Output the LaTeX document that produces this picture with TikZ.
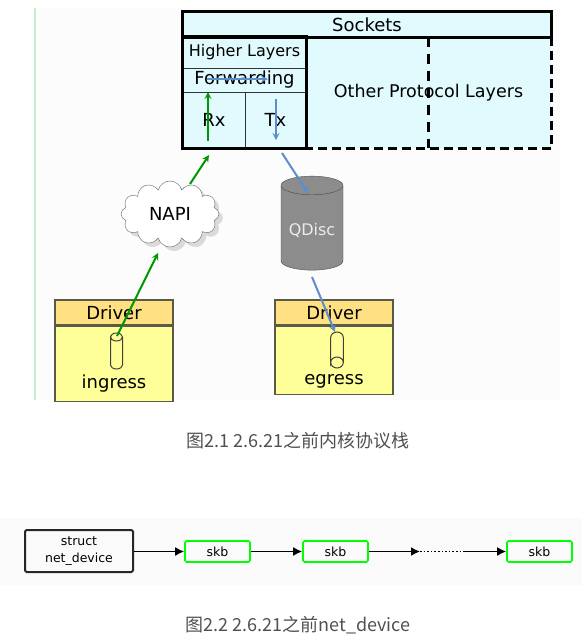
\documentclass[tikz,border=0pt]{standalone}
\usepackage{fontspec}
\setmainfont{DejaVu Sans}
\newfontfamily\cjk{Noto Sans CJK SC}
\usetikzlibrary{shapes.geometric,shapes.symbols,shadows,arrows.meta}
\definecolor{sockcyan}{RGB}{224,250,254}
\definecolor{drvhead}{RGB}{255,224,130}
\definecolor{drvbody}{RGB}{255,255,153}
\definecolor{drvline}{RGB}{90,90,70}
\definecolor{qgray}{RGB}{140,140,140}
\definecolor{rxgreen}{RGB}{0,150,0}
\definecolor{txblue}{RGB}{95,140,205}
\definecolor{capgray}{RGB}{80,80,80}
\definecolor{barline}{RGB}{200,235,200}
\begin{document}
\begin{tikzpicture}[x=1pt,y=-1pt,>=stealth,
  every node/.style={font=\fontsize{18}{18}\selectfont},
  layer/.style={fill=sockcyan,draw=black!80,line width=.8,inner sep=0},
  outerline/.style={line width=2.5},
  drv/.style={draw=drvline,line width=1.2,inner sep=0},
  tubeline/.style={draw=black!75,line width=1},
  skb/.style={draw=green,line width=1.6,rounded corners=1.5,minimum width=65,minimum height=21,inner sep=0,font=\fontsize{12.5}{12.5}\selectfont},
  link/.style={-{Latex[length=9pt,width=9pt]},line width=1.6},
  capt/.style={text=capgray,font=\cjk\fontsize{18}{18}\selectfont}]
\useasboundingbox (0,0) rectangle (585,641);
% upper figure
\fill[black!1] (37,8) rectangle (560,400);
\draw[barline,line width=2.5] (35,8)--(35,400);
\node[layer,draw=none,minimum width=245,minimum height=111] (other) at (428.5,92.5) {\fontsize{17.5}{17.5}\selectfont Other Protocol Layers};
\draw[line width=3,dash pattern=on 9 off 5] (other.north east)--(other.south east)--(other.south west);
\draw[line width=3,dash pattern=on 10 off 7] (other.north)--(other.south);
\node[layer,minimum width=368,minimum height=25] (sock) at (367,24.5) {Sockets};
\node[layer,minimum width=123,minimum height=31] (high) at (244.5,52.5) {\fontsize{16}{16}\selectfont Higher Layers};
\node[layer,minimum width=123,minimum height=24] (fwd) at (244.5,80) {Forwarding};
\node[layer,minimum width=62,minimum height=56] (rx) at (214,120) {Rx};
\node[layer,minimum width=61,minimum height=56] (tx) at (275.5,120) {Tx};
\draw[outerline] (sock.north west) rectangle (sock.south east);
\draw[outerline] (high.north west) rectangle (tx.south east);
\node[cloud,cloud puffs=12,aspect=1.5,draw=gray!80!black,fill=white,minimum width=98,minimum height=66,
  drop shadow={shadow xshift=4pt,shadow yshift=-4pt,fill=gray!55}] (napi) at (170,214) {NAPI};
\node[cylinder,shape border rotate=90,aspect=.35,draw=black!70,fill=qgray,minimum width=62,minimum height=94,
  text=gray!15,font=\fontsize{16}{16}\selectfont] (qdisc) at (312,230) {QDisc};
\node[drv,fill=drvhead,minimum width=118,minimum height=25] (drvin) at (114,312.5) {Driver};
\node[drv,fill=drvbody,minimum width=118,minimum height=75,anchor=north] (bodyin) at (drvin.south) {};
\node[drv,fill=drvhead,minimum width=118,minimum height=25] (drvout) at (334,312.5) {Driver};
\node[drv,fill=drvbody,minimum width=118,minimum height=68,anchor=north] (bodyout) at (drvout.south) {};
% ring tubes
\draw[tubeline] (110.5,337) arc(180:360:6 and 4) arc(0:180:6 and 4)--(110.5,365) arc(180:0:6 and 4)--(122.5,337);
\draw[tubeline] (330.7,362.5) arc(180:0:6.3 and 5.5) arc(0:-180:6.3 and 5.5)--(330.7,337.5) arc(180:360:6.3 and 5.5)--(343.3,362.5);
\node (ingress) at (114,384) {ingress};
\node (egress) at (334,381) {egress};
% rx path
\coordinate (inst) at (117,336);
\coordinate (napiin) at (158,253);
\coordinate (napiout) at (190,184);
\coordinate (rxin) at (209,155);
\coordinate (rxlo) at (208,141);
\coordinate (rxhi) at (208,92);
\draw[->,rxgreen,line width=2] (inst)--(napiin);
\draw[->,rxgreen,line width=2] (napiout)--(rxin);
\draw[->,rxgreen,line width=2] (rxlo)--(rxhi);
% tx path
\coordinate (fwa) at (207,79);
\coordinate (fwb) at (268,79);
\coordinate (txhi) at (276,99);
\coordinate (txlo) at (276,140);
\coordinate (txout) at (282,153);
\coordinate (qin) at (308,193);
\coordinate (qout) at (312,277);
\coordinate (outst) at (335,332);
\draw[->,txblue,line width=2] (fwa)--(fwb);
\draw[->,txblue,line width=2] (txhi)--(txlo);
\draw[->,txblue,line width=2] (txout)--(qin);
\draw[->,txblue,line width=2] (qout)--(outst);
\node[capt] (cap1) at (298,441) {图2.1 2.6.21之前内核协议栈};
% lower figure
\fill[black!2] (0,518) rectangle (582,585);
\node[draw=black!85,line width=2,rounded corners=1.5,minimum width=108,minimum height=42,inner sep=0,align=center,
  font=\fontsize{12.5}{17}\selectfont] (dev) at (79,551) {struct\\net\_device};
\node[skb] (skb1) at (217.5,551.5) {skb};
\node[skb] (skb2) at (335.5,551.5) {skb};
\node[skb] (skb3) at (539.5,551.5) {skb};
\coordinate (dota) at (420,551.5);
\coordinate (dotb) at (463,551.5);
\draw[link] (dev.east|-skb1)--(skb1);
\draw[link] (skb1)--(skb2);
\draw[link] (skb2)--(dota);
\draw[line width=1.6,dotted] (dota)--(dotb);
\draw[link] (dotb)--(skb3);
\node[capt] (cap2) at (298,625) {图2.2 2.6.21之前net\_device};
\end{tikzpicture}
\end{document}
